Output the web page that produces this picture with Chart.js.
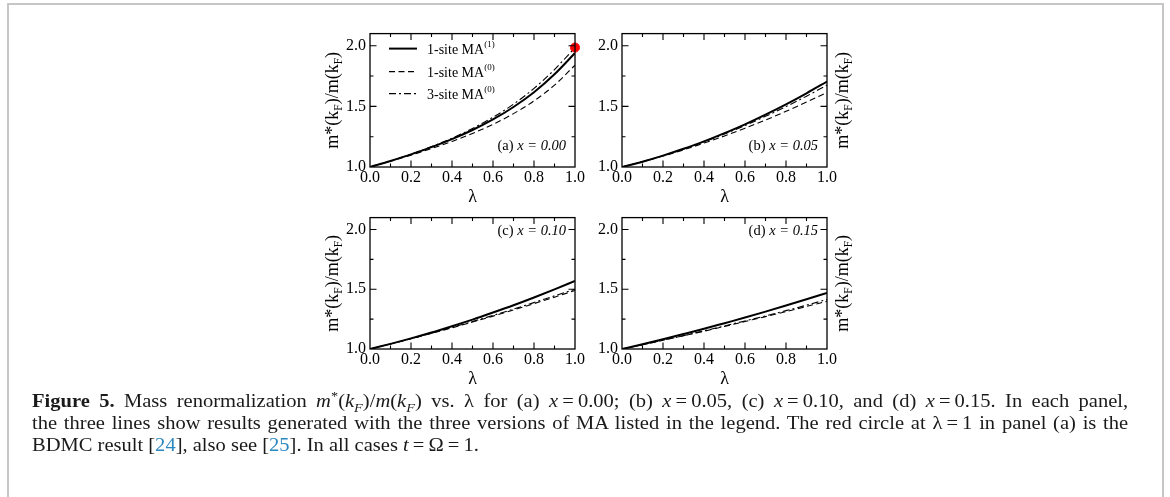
<!DOCTYPE html>
<html>
<head>
<meta charset="utf-8">
<script src="https://cdn.jsdelivr.net/npm/chart.js@4"></script>
<style>
  body { margin: 0; width: 1170px; height: 497px; overflow: hidden; background: #fff; position: relative; }
  .frame { position: absolute; left: 7px; top: 3px; width: 1157px; height: 600px; box-sizing: border-box; border: 2px solid #c6c6c6; }
  canvas { position: absolute; }
  .caption { position: absolute; left: 32px; top: 390px; width: 1015px; font-family: 'Liberation Serif', serif; font-size: 19px; line-height: 21.8px; color: #1a1a1a; transform: scaleX(1.08); transform-origin: 0 0; }
  .caption div { white-space: nowrap; }
  .caption .j { white-space: normal; text-align: justify; text-align-last: justify; }
  .caption sup, .caption sub { font-size: 70%; line-height: 0; }
  .ref { color: #2a87c0; }
</style>
</head>
<body>
<div class="frame"></div>
<canvas id="pa" width="310" height="190" style="left:300px; top:20px"></canvas>
<canvas id="pb" width="310" height="190" style="left:552px; top:20px"></canvas>
<canvas id="pc" width="310" height="188" style="left:300px; top:204px"></canvas>
<canvas id="pd" width="310" height="188" style="left:552px; top:204px"></canvas>
<div class="caption">
  <div class="j"><b>Figure 5.</b> Mass renormalization <i>m</i><sup>*</sup>(<i>k<sub>F</sub></i>)/<i>m</i>(<i>k<sub>F</sub></i>) vs. λ for (a) <i>x</i>&#8201;=&#8201;0.00; (b) <i>x</i>&#8201;=&#8201;0.05, (c) <i>x</i>&#8201;=&#8201;0.10, and (d) <i>x</i>&#8201;=&#8201;0.15. In each panel,</div>
  <div class="j">the three lines show results generated with the three versions of MA listed in the legend. The red circle at λ&#8201;=&#8201;1 in panel (a) is the</div>
  <div>BDMC result [<span class="ref">24</span>], also see [<span class="ref">25</span>]. In all cases <i>t</i>&#8201;=&#8201;Ω&#8201;=&#8201;1.</div>
</div>
<script>
const FONT = 'Liberation Serif';

// lambda grid and tick positions
const lam = [0, 0.1, 0.2, 0.3, 0.4, 0.5, 0.6, 0.7, 0.8, 0.9, 1.0];
const xTicks = [0, 0.2, 0.4, 0.6, 0.8, 1.0];
const xMinor = [0.1, 0.3, 0.5, 0.7, 0.9];
const yTicks = [1.0, 1.5, 2.0];
const yMinor = [1.25, 1.75];

// series names
const names = ['1-site MA', '1-site MA', '3-site MA'];
const sups = ['(1)', '(0)', '(0)'];

// panel (a) x = 0.00
const ma1_a = [1, 1.050, 1.104, 1.164, 1.230, 1.305, 1.392, 1.495, 1.617, 1.765, 1.940];
const ma0_a = [1, 1.048, 1.098, 1.152, 1.211, 1.277, 1.352, 1.440, 1.545, 1.675, 1.840];
const ma3_a = [1, 1.050, 1.106, 1.168, 1.238, 1.318, 1.410, 1.518, 1.648, 1.803, 1.985];
const bdmc = [{x: 1.0, y: 1.985}];

// panel (b) x = 0.05
const ma1_b = [1, 1.044, 1.094, 1.150, 1.211, 1.279, 1.352, 1.432, 1.517, 1.608, 1.705];
const ma0_b = [1, 1.043, 1.090, 1.141, 1.197, 1.256, 1.320, 1.387, 1.459, 1.535, 1.615];
const ma3_b = [1, 1.044, 1.093, 1.148, 1.207, 1.272, 1.342, 1.418, 1.498, 1.584, 1.675];

// panel (c) x = 0.10
const ma1_c = [1, 1.043, 1.089, 1.138, 1.191, 1.246, 1.305, 1.366, 1.431, 1.499, 1.570];
const ma0_c = [1, 1.042, 1.086, 1.131, 1.177, 1.226, 1.275, 1.327, 1.380, 1.434, 1.490];
const ma3_c = [1, 1.042, 1.087, 1.133, 1.181, 1.230, 1.281, 1.334, 1.389, 1.445, 1.500];

// panel (d) x = 0.15
const ma1_d = [1, 1.040, 1.082, 1.125, 1.169, 1.216, 1.263, 1.313, 1.364, 1.416, 1.470];
const ma0_d = [1, 1.036, 1.073, 1.111, 1.149, 1.189, 1.230, 1.271, 1.313, 1.356, 1.400];
const ma3_d = [1, 1.036, 1.074, 1.112, 1.152, 1.193, 1.235, 1.277, 1.321, 1.367, 1.415];

function pts(vals) {
  return lam.map((l, i) => ({x: l, y: vals[i]}));
}

// draws a run of text pieces: [text, size, italic, dy]
function drawParts(ctx, parts, x, y, align) {
  let w = 0;
  parts.forEach(p => {
    ctx.font = (p[2] ? 'italic ' : '') + p[1] + 'px "' + FONT + '"';
    w += ctx.measureText(p[0]).width;
  });
  let cx = align === 'center' ? x - w / 2 : align === 'right' ? x - w : x;
  parts.forEach(p => {
    ctx.font = (p[2] ? 'italic ' : '') + p[1] + 'px "' + FONT + '"';
    ctx.fillText(p[0], cx, y + (p[3] || 0));
    cx += ctx.measureText(p[0]).width;
  });
}

const dashes = [[], [6, 3.5], [7, 3, 2, 3]];
const widths = [2, 1.1, 1.1];

const framePlugin = {
  id: 'frame',
  afterDatasetsDraw(chart, args, opts) {
    const ctx = chart.ctx;
    const a = chart.chartArea;
    const sx = chart.scales.x, sy = chart.scales.y;
    ctx.save();
    ctx.strokeStyle = '#000';
    ctx.fillStyle = '#000';
    ctx.lineWidth = 1.3;
    ctx.strokeRect(a.left, a.top, a.right - a.left, a.bottom - a.top);
    ctx.lineWidth = 1.1;
    ctx.beginPath();
    const tick = (vals, len) => {
      vals.forEach(v => {
        const px = sx.getPixelForValue(v);
        ctx.moveTo(px, a.bottom); ctx.lineTo(px, a.bottom - len);
        ctx.moveTo(px, a.top); ctx.lineTo(px, a.top + len);
      });
    };
    const ytick = (vals, len) => {
      vals.forEach(v => {
        const py = sy.getPixelForValue(v);
        ctx.moveTo(a.left, py); ctx.lineTo(a.left + len, py);
        ctx.moveTo(a.right, py); ctx.lineTo(a.right - len, py);
      });
    };
    tick(xTicks.slice(1, -1), 6.5);
    tick(xMinor, 3.5);
    ytick(yTicks.slice(1), 6.5);
    ytick(yMinor, 3.5);
    ctx.stroke();

    // y axis title with subscripts
    ctx.textAlign = 'left';
    ctx.textBaseline = 'alphabetic';
    const cy = (a.top + a.bottom) / 2;
    const cx = opts.side === 'right' ? a.right + 15 : a.left - 38;
    ctx.save();
    ctx.translate(cx, cy);
    ctx.rotate(-Math.PI / 2);
    drawParts(ctx, [['m*(k', 18], ['F', 11.5, false, 4], [')/m(k', 18], ['F', 11.5, false, 4], [')', 18]], 0, 6, 'center');
    ctx.restore();

    // panel tag
    const ty = opts.tagPos === 'top' ? a.top + 17 : a.bottom - 17;
    drawParts(ctx, [[opts.tag + ' ', 14.5], ['x = ' + opts.xval, 14.5, true]], a.right - 9, ty, 'right');

    // legend
    if (opts.legend) {
      [15, 38, 60].forEach((dy, i) => {
        const ly = a.top + dy;
        ctx.beginPath();
        ctx.setLineDash(dashes[i]);
        ctx.lineWidth = widths[i];
        ctx.moveTo(a.left + 19, ly);
        ctx.lineTo(a.left + 47, ly);
        ctx.stroke();
        ctx.setLineDash([]);
        drawParts(ctx, [[names[i], 14], [sups[i], 9, false, -7]], a.left + 57, ly + 5, 'left');
      });
    }
    ctx.restore();
  }
};

function makePanel(id, s1, s0, s3, frameOpts, extra) {
  const datasets = [
    {label: names[0] + sups[0], data: pts(s1), borderColor: '#000', borderWidth: widths[0], borderDash: dashes[0]},
    {label: names[1] + sups[1], data: pts(s0), borderColor: '#000', borderWidth: widths[1], borderDash: dashes[1]},
    {label: names[2] + sups[2], data: pts(s3), borderColor: '#000', borderWidth: widths[2], borderDash: dashes[2]}
  ].map(d => Object.assign(d, {pointRadius: 0, fill: false, cubicInterpolationMode: 'monotone'}));
  if (extra) datasets.push(extra);
  return new Chart(document.getElementById(id), {
    type: 'line',
    data: {datasets: datasets},
    plugins: [framePlugin],
    options: {
      responsive: false,
      animation: false,
      events: [],
      layout: {padding: {left: 0, right: 35, top: 10, bottom: 0}},
      plugins: {
        legend: {display: false},
        tooltip: {enabled: false},
        frame: frameOpts
      },
      scales: {
        x: {
          type: 'linear', min: 0, max: 1,
          grid: {display: false, drawTicks: false}, border: {display: false},
          afterBuildTicks: s => { s.ticks = xTicks.map(v => ({value: v})); },
          afterFit: s => { s.height = 43; },
          ticks: {padding: 1, color: '#000', autoSkip: false, maxRotation: 0,
                  font: {family: FONT, size: 16}, callback: v => v.toFixed(1)},
          title: {display: true, text: 'λ', color: '#000', font: {family: FONT, size: 18},
                  padding: {top: 0, bottom: 2}}
        },
        y: {
          type: 'linear', min: 1, max: 2.1,
          grid: {display: false, drawTicks: false}, border: {display: false},
          afterBuildTicks: s => { s.ticks = yTicks.map(v => ({value: v})); },
          afterFit: s => { s.width = 70; },
          ticks: {padding: 4, color: '#000', font: {family: FONT, size: 16},
                  callback: v => v.toFixed(1)}
        }
      }
    }
  });
}

makePanel('pa', ma1_a, ma0_a, ma3_a, {side: 'left', tag: '(a)', xval: '0.00', tagPos: 'bottom', legend: true},
  {label: 'BDMC', data: bdmc, showLine: false, pointRadius: 4.5, pointBackgroundColor: '#ff0000',
   pointBorderColor: '#ff0000', borderColor: '#ff0000', backgroundColor: '#ff0000', clip: false, order: -1});
makePanel('pb', ma1_b, ma0_b, ma3_b, {side: 'right', tag: '(b)', xval: '0.05', tagPos: 'bottom'});
makePanel('pc', ma1_c, ma0_c, ma3_c, {side: 'left', tag: '(c)', xval: '0.10', tagPos: 'top'});
makePanel('pd', ma1_d, ma0_d, ma3_d, {side: 'right', tag: '(d)', xval: '0.15', tagPos: 'top'});
</script>
</body>
</html>
